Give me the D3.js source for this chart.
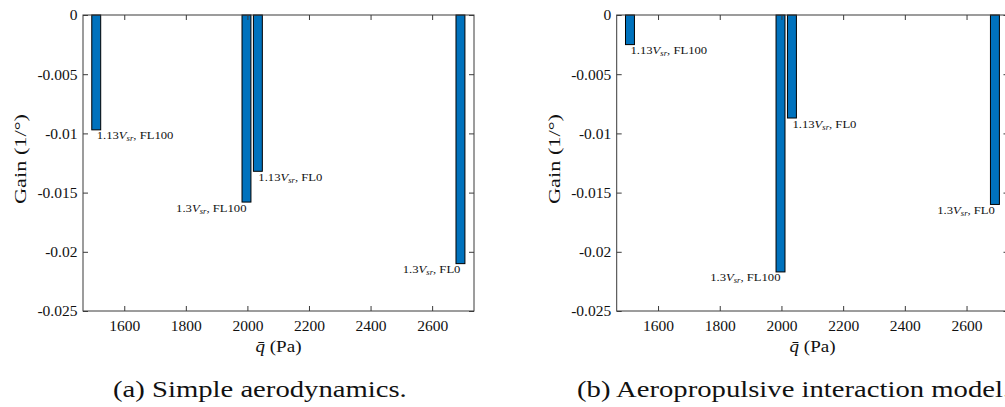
<!DOCTYPE html>
<html>
<head>
<meta charset="utf-8">
<script src="https://cdn.jsdelivr.net/npm/d3@7"></script>
<style>
  html, body { margin: 0; padding: 0; background: #fff; }
  svg { display: block; }
  svg text { font-family: "Liberation Serif", "DejaVu Serif", serif; fill: #111; }
</style>
</head>
<body>
<svg id="fig" width="1005" height="407"></svg>
<script>
// ---- data ----
const qBar = [1509, 1997, 2034, 2692];            // dynamic pressure (Pa)
const speedFactor = ["1.13", "1.3", "1.13", "1.3"];
const flightLevel = ["FL100", "FL100", "FL0", "FL0"];
const gainSimple = [-0.0097, -0.0158, -0.0132, -0.0210];
const gainAero   = [-0.0025, -0.0217, -0.0087, -0.0160];
const xTicks = [1600, 1800, 2000, 2200, 2400, 2600];
const yTicks = [0, -0.005, -0.01, -0.015, -0.02, -0.025];
const yTickLabels = ["0", "-0.005", "-0.01", "-0.015", "-0.02", "-0.025"];
const captions = ["(a) Simple aerodynamics.", "(b) Aeropropulsive interaction model."];

const xDomain = [1466, 2736];
const yDomain = [-0.025, 0];
const barW = 29;
const FONT = '"Liberation Serif", "DejaVu Serif", serif';

const svg = d3.select("#fig");
const axisColor = "#3a3a3a";

// widen Times-like glyphs toward Computer Modern proportions
function stretch(sel, factor) {
  const n = sel.node();
  const w = n.getComputedTextLength();
  sel.attr("textLength", w * factor).attr("lengthAdjust", "spacingAndGlyphs");
}

const panels = [
  { left: 83, right: 474, vals: gainSimple, cap: captions[0], capX: 113 },
  { left: 616.7, right: 1008.5, vals: gainAero, cap: captions[1], capX: 577 }
];
const plotTop = 15, plotBottom = 311;

panels.forEach(p => {
  const x = d3.scaleLinear().domain(xDomain).range([p.left, p.right]);
  const y = d3.scaleLinear().domain(yDomain).range([plotBottom, plotTop]);
  const g = svg.append("g").attr("font-family", FONT);

  // bars
  g.selectAll("rect.bar").data(p.vals).join("rect")
    .attr("class", "bar")
    .attr("x", (d, i) => x(qBar[i] - barW / 2))
    .attr("width", (d, i) => x(qBar[i] + barW / 2) - x(qBar[i] - barW / 2))
    .attr("y", y(0))
    .attr("height", d => y(d) - y(0))
    .attr("fill", "#0072BD")
    .attr("stroke", "#000")
    .attr("stroke-width", 1);

  // axes
  const styleAxis = sel => {
    sel.attr("font-family", FONT);
    sel.select(".domain").remove();
    sel.selectAll(".tick line").attr("stroke", axisColor);
    sel.selectAll(".tick text").attr("fill", "#111")
      .attr("font-family", FONT).attr("font-size", 15.5);
  };
  g.append("g").attr("transform", `translate(0,${plotBottom})`)
    .call(d3.axisBottom(x).tickValues(xTicks).tickSize(-5).tickPadding(9).tickFormat(d3.format("d")))
    .call(styleAxis);
  g.append("g").attr("transform", `translate(0,${plotTop})`)
    .call(d3.axisTop(x).tickValues(xTicks).tickSize(-5).tickFormat(""))
    .call(styleAxis);
  g.append("g").attr("transform", `translate(${p.left},0)`)
    .call(d3.axisLeft(y).tickValues(yTicks).tickSize(-5).tickPadding(5.5)
      .tickFormat((d, i) => yTickLabels[i]))
    .call(styleAxis);
  g.append("g").attr("transform", `translate(${p.right},0)`)
    .call(d3.axisRight(y).tickValues(yTicks).tickSize(-5).tickFormat(""))
    .call(styleAxis);

  g.append("rect")
    .attr("x", p.left).attr("y", plotTop)
    .attr("width", p.right - p.left).attr("height", plotBottom - plotTop)
    .attr("fill", "none").attr("stroke", axisColor).attr("stroke-width", 1);

  // bar annotations
  p.vals.forEach((v, i) => {
    const isLeft = speedFactor[i] === "1.13";
    const t = g.append("text")
      .attr("x", x(qBar[i]) + (isLeft ? 0.5 : 0))
      .attr("y", y(v) + 9.5)
      .attr("text-anchor", isLeft ? "start" : "end")
      .attr("font-size", 11);
    t.append("tspan").text(speedFactor[i]);
    t.append("tspan").attr("font-style", "italic").text("V");
    t.append("tspan").attr("font-style", "italic").attr("font-size", 7.5).attr("dy", 2).text("sr");
    t.append("tspan").attr("dy", -2).text(", " + flightLevel[i]);
    stretch(t, 1.15);
  });

  // axis labels
  const xl = g.append("text")
    .attr("x", (p.left + p.right) / 2).attr("y", 352)
    .attr("text-anchor", "middle").attr("font-size", 17);
  xl.append("tspan").attr("font-style", "italic").text("q\u0304");
  xl.append("tspan").text(" (Pa)");
  stretch(xl, 1.12);

  const yl = g.append("text")
    .attr("transform", `translate(${p.left - 57},${(plotTop + plotBottom) / 2 - 4}) rotate(-90)`)
    .attr("text-anchor", "middle").attr("font-size", 17.5)
    .text("Gain (1/\u00B0)");
  yl.attr("textLength", 90).attr("lengthAdjust", "spacingAndGlyphs");

  // caption
  const cp = g.append("text")
    .attr("x", p.capX).attr("y", 397)
    .attr("text-anchor", "start").attr("font-size", 23.5)
    .text(p.cap);
  stretch(cp, 1.22);
});
</script>
</body>
</html>
